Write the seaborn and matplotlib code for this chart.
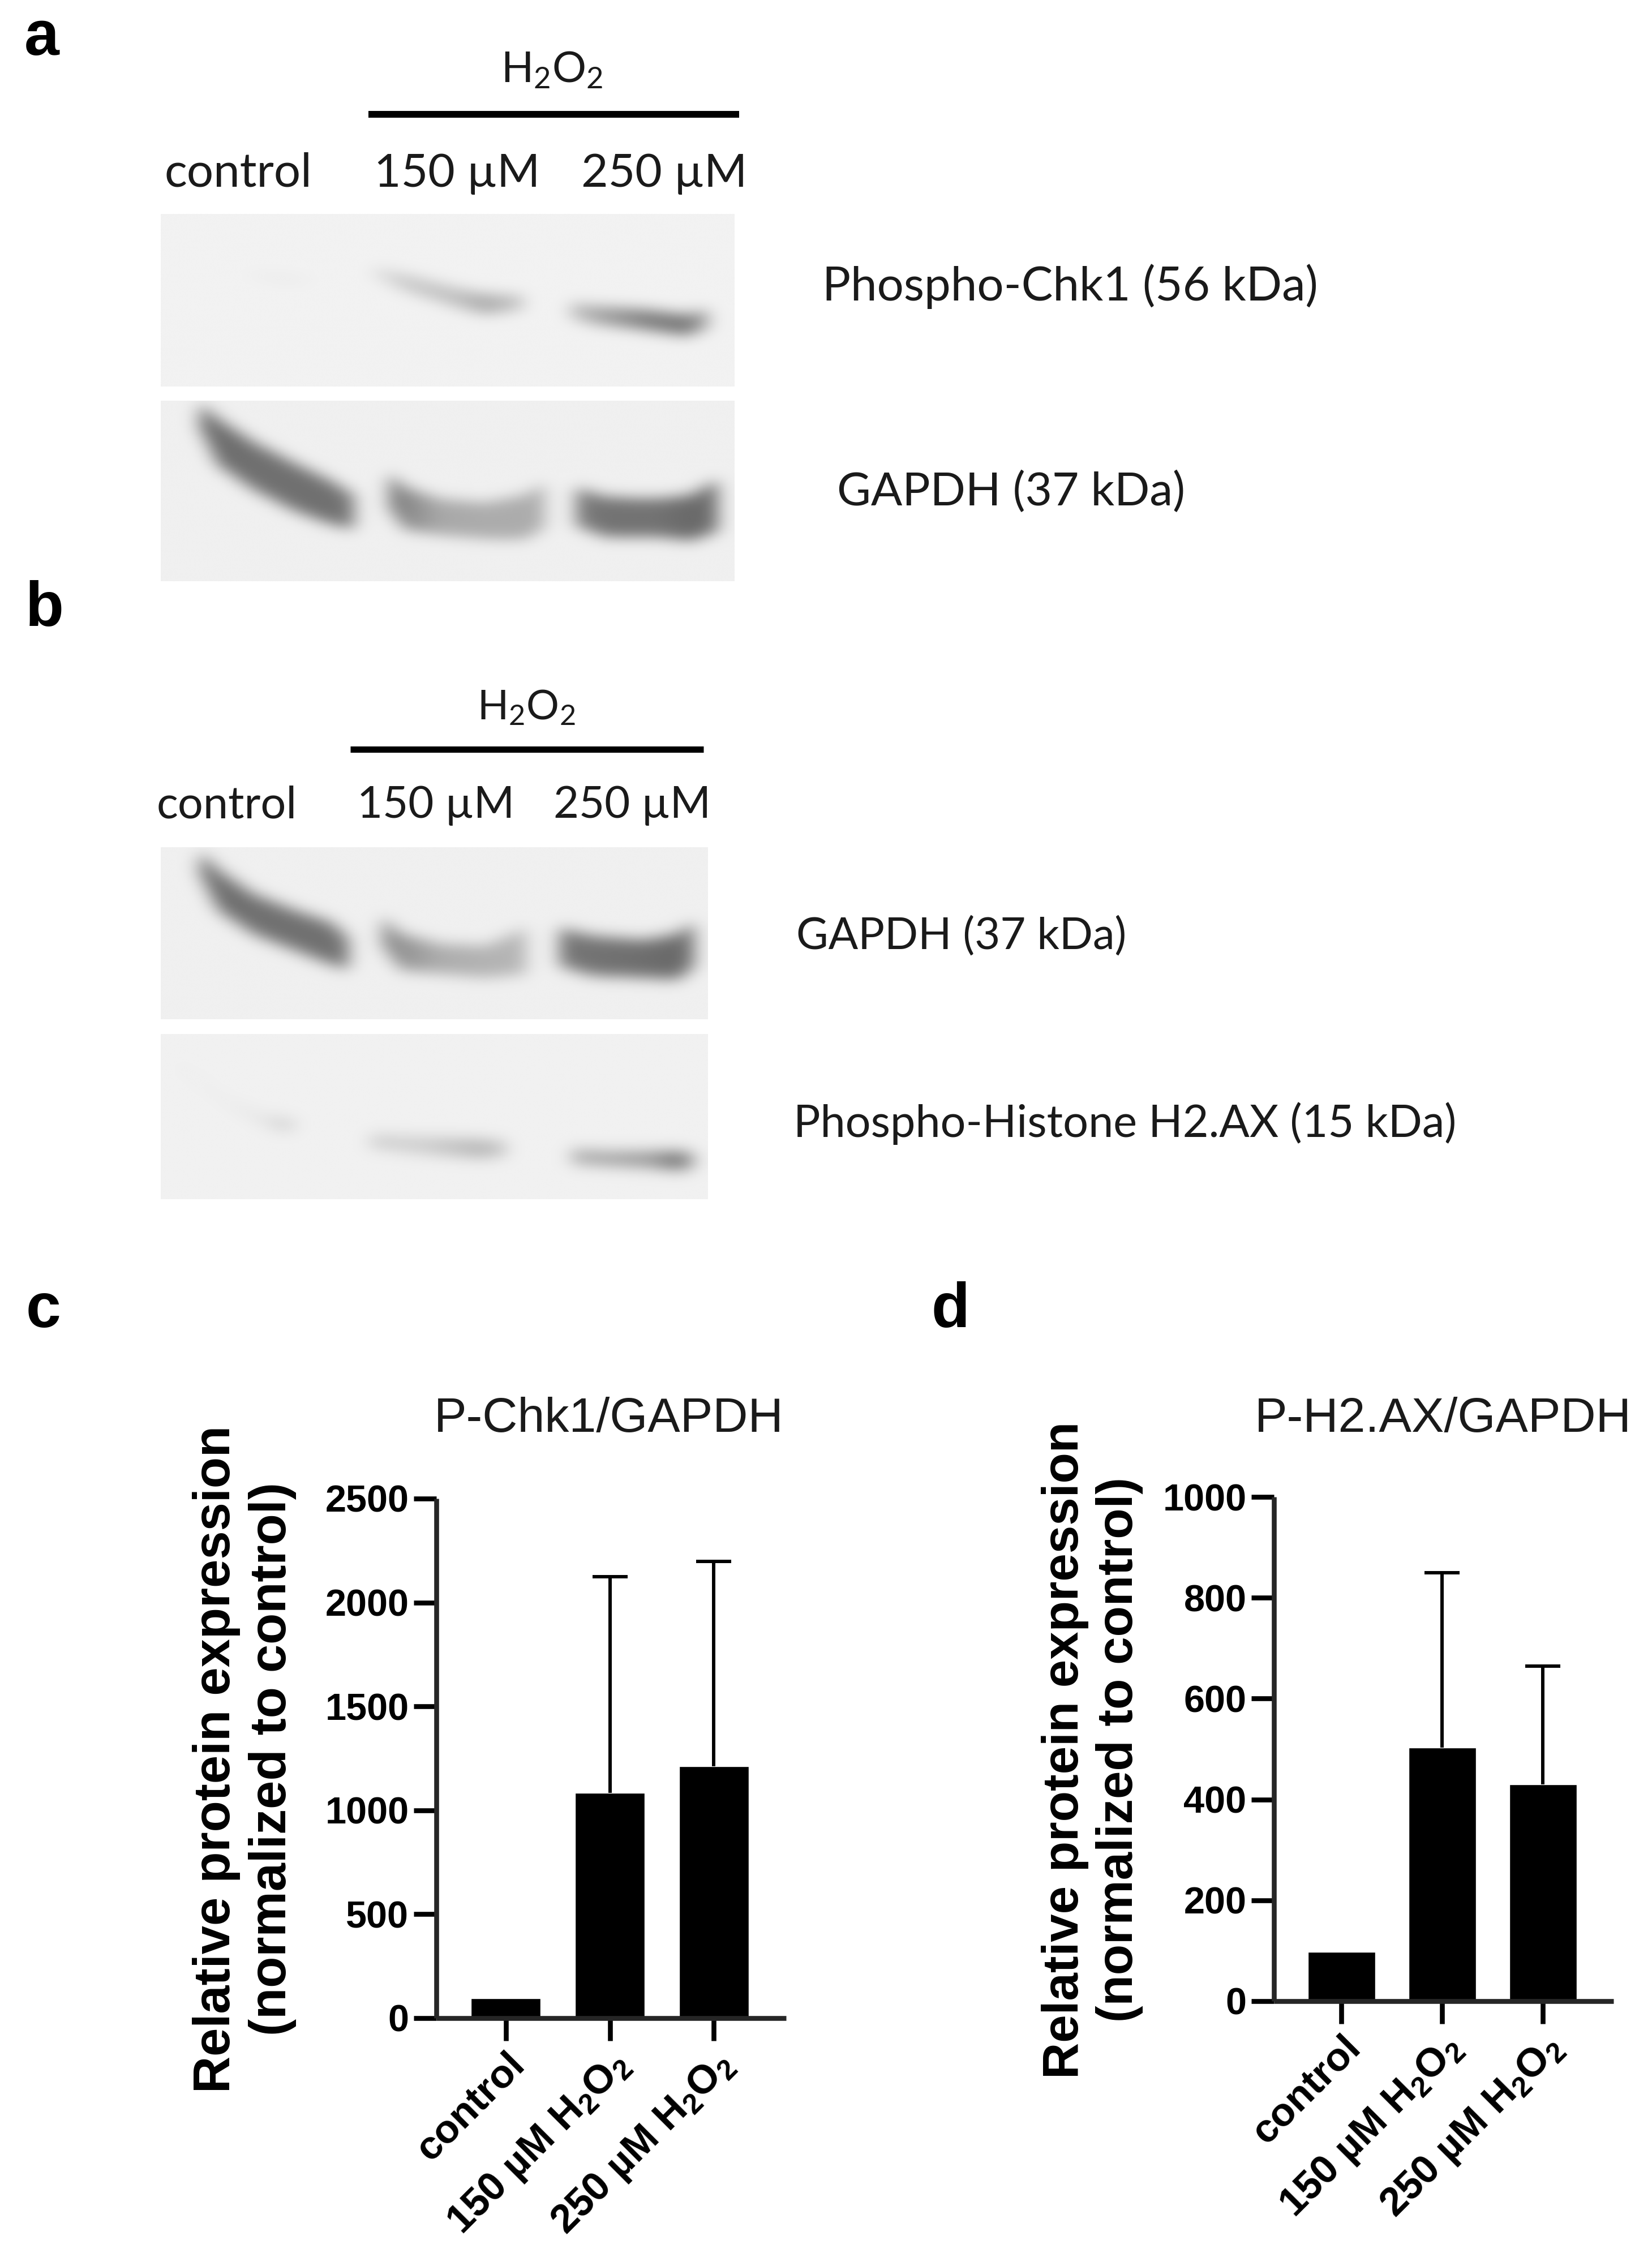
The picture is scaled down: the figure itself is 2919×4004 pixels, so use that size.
import numpy as np
import pandas as pd
import matplotlib
matplotlib.use('Agg')
import matplotlib.pyplot as plt
import seaborn as sns

sns.set_theme(style='ticks')
plt.rcParams['font.family'] = ['Liberation Sans', 'DejaVu Sans']
plt.rcParams['mathtext.default'] = 'regular'

W, H = 2919, 4004

# 1. data ---------------------------------------------------------------
groups = ['control', '150 µM H$_2$O$_2$', '250 µM H$_2$O$_2$']

chk1_mean = [95, 1085, 1212]
chk1_top = [np.nan, 2125, 2197]
chk1_ticks = [0, 500, 1000, 1500, 2000, 2500]

h2ax_mean = [98, 503, 430]
h2ax_top = [np.nan, 850, 664]
h2ax_ticks = [0, 200, 400, 600, 800, 1000]

# blot bands: (x, y top, y bottom, grey)
chk1_control = [(480, 712, 730, 238), (560, 722, 748, 234), (625, 730, 745, 238)]
chk1_150 = [(735, 702, 725, 225), (800, 722, 765, 200), (900, 758, 808, 190),
            (960, 775, 828, 170), (1035, 778, 815, 195)]
chk1_250 = [(1130, 797, 838, 195), (1180, 806, 855, 165), (1280, 816, 870, 125),
            (1360, 830, 885, 115), (1405, 815, 865, 175)]

gapdh_a_control = [(395, 1065, 1130, 105), (430, 1105, 1225, 108), (500, 1165, 1290, 112),
                   (580, 1220, 1345, 112), (650, 1265, 1380, 112), (698, 1305, 1395, 118)]
gapdh_a_150 = [(770, 1250, 1340, 120), (800, 1285, 1395, 135), (870, 1315, 1410, 168),
               (960, 1325, 1420, 172), (1040, 1305, 1420, 172), (1078, 1275, 1390, 172)]
gapdh_a_250 = [(1140, 1285, 1385, 125), (1200, 1310, 1415, 115), (1300, 1315, 1415, 115),
               (1370, 1305, 1425, 105), (1422, 1265, 1400, 110)]

gapdh_b_control = [(395, 650, 705, 105), (430, 695, 795, 108), (500, 755, 855, 112),
                   (580, 795, 895, 112), (650, 825, 930, 112), (688, 865, 945, 118)]
gapdh_b_150 = [(755, 815, 885, 135), (790, 855, 945, 145), (870, 880, 955, 172),
               (960, 885, 965, 178), (1038, 840, 955, 182)]
gapdh_b_250 = [(1105, 840, 935, 118), (1170, 860, 960, 115), (1270, 870, 965, 110),
               (1340, 855, 970, 105), (1372, 825, 935, 118)]

h2ax_control = [(350, 1175, 1195, 236), (450, 1270, 1290, 234), (520, 1310, 1335, 226),
                (560, 1320, 1350, 205), (585, 1325, 1345, 222)]
h2ax_150 = [(730, 1360, 1392, 205), (830, 1365, 1408, 205), (950, 1372, 1418, 180),
            (1000, 1378, 1412, 195)]
h2ax_250 = [(1130, 1397, 1432, 170), (1200, 1402, 1438, 160), (1280, 1402, 1442, 150),
            (1340, 1402, 1448, 110), (1370, 1408, 1442, 150)]


def px_axes(x0, y0, x1, y1):
    # axes from pixel box, y counted from the top
    return fig.add_axes([x0 / W, 1 - y1 / H, (x1 - x0) / W, (y1 - y0) / H])


def smooth(img, sigma):
    k = np.exp(-0.5 * (np.arange(-3 * sigma, 3 * sigma + 1) / sigma) ** 2)
    k = k / k.sum()
    pad = len(k) // 2
    for axis in (0, 1):
        p = np.pad(img, [(pad, pad) if a == axis else (0, 0) for a in (0, 1)], mode='edge')
        img = np.apply_along_axis(lambda v: np.convolve(v, k, mode='valid'), axis, p)
    return img


def draw_blot(box, xr, yr, bands, bg, sigma=6):
    ax = px_axes(*box)
    xs = np.arange(xr[0], xr[1], 3.0)
    ys = np.arange(yr[0], yr[1], 3.0)
    img = np.full((len(ys), len(xs)), float(bg))
    for band in bands:
        bx, top, bot, grey = np.array(band, dtype=float).T
        for j, x in enumerate(xs):
            if bx[0] <= x <= bx[-1]:
                t, b = np.interp(x, bx, top), np.interp(x, bx, bot)
                img[(ys >= t) & (ys <= b), j] = np.interp(x, bx, grey)
    ax.imshow(smooth(img, sigma), cmap='gray', vmin=0, vmax=255, aspect='auto',
              interpolation='bicubic')
    ax.axis('off')


fig = plt.figure(figsize=(W / 100, H / 100), dpi=100, facecolor='white')


def txt(x, y, s, **kw):
    kw.setdefault('va', 'baseline')
    return fig.text(x / W, 1 - y / H, s, **kw)


# 2. blots --------------------------------------------------------------
draw_blot((284, 378, 1298, 683), (317, 1455), (563, 1022), [chk1_control, chk1_150, chk1_250], 242)
draw_blot((284, 708, 1298, 1027), (317, 1455), (1057, 1533), [gapdh_a_control, gapdh_a_150, gapdh_a_250], 240)
draw_blot((284, 1497, 1251, 1801), (317, 1400), (637, 1070), [gapdh_b_control, gapdh_b_150, gapdh_b_250], 240)
draw_blot((284, 1827, 1251, 2119), (317, 1400), (1107, 1523), [h2ax_control, h2ax_150, h2ax_250], 241)

blot_font = dict(family=['Lato', 'DejaVu Sans'], color='#1a1a1a')

# panel a labels
txt(975, 146, 'H$_2$O$_2$', fontsize=54, ha='center', **blot_font)
fig.add_artist(plt.Line2D([651 / W, 1306 / W], [1 - 202 / H] * 2, color='black', lw=8.6, solid_capstyle='butt'))
txt(421, 330, 'control', fontsize=60, ha='center', **blot_font)
txt(808, 330, '150 µM', fontsize=59, ha='center', **blot_font)
txt(1174, 330, '250 µM', fontsize=59, ha='center', **blot_font)
txt(1453, 531, 'Phospho-Chk1 (56 kDa)', fontsize=60, **blot_font)
txt(1479, 893, 'GAPDH (37 kDa)', fontsize=59, **blot_font)

# panel b labels
txt(930, 1271, 'H$_2$O$_2$', fontsize=52, ha='center', **blot_font)
fig.add_artist(plt.Line2D([619 / W, 1243 / W], [1 - 1324 / H] * 2, color='black', lw=8, solid_capstyle='butt'))
txt(401, 1445, 'control', fontsize=57, ha='center', **blot_font)
txt(770, 1445, '150 µM', fontsize=56, ha='center', **blot_font)
txt(1117, 1445, '250 µM', fontsize=56, ha='center', **blot_font)
txt(1407, 1677, 'GAPDH (37 kDa)', fontsize=56, **blot_font)
txt(1402, 2009, 'Phospho-Histone H2.AX (15 kDa)', fontsize=57, **blot_font)

# panel letters
for x, y, s in [(43, 97, 'a'), (45, 1106, 'b'), (46, 2345, 'c'), (1645, 2345, 'd')]:
    txt(x, y, s, fontsize=80, fontweight='bold', color='black')

# 3. bar charts ---------------------------------------------------------
panels = [
    ((771, 2648, 1389, 3566), (-0.666, 2.693), chk1_mean, chk1_top, chk1_ticks, 'P-Chk1/GAPDH', (1076, 2530), (432, 3108), 65),
    ((2251, 2645, 2851, 3536), (-0.671, 2.70), h2ax_mean, h2ax_top, h2ax_ticks, 'P-H2.AX/GAPDH', (2550, 2530), (1930, 3092), 64),
]

for box, xlim, mean, top, ticks, title, title_pos, ylab_pos, ylab_size in panels:
    ax = px_axes(*box)
    df = pd.DataFrame({'group': groups, 'value': mean})
    sns.barplot(data=df, x='group', y='value', color='black', saturation=1, width=0.67, ax=ax)
    # upper error bars only
    err = np.array(top) - np.array(mean)
    eb = ax.errorbar(range(3), mean, yerr=[np.zeros(3), err], fmt='none', ecolor='black',
                     elinewidth=4.3, capsize=22, capthick=4.3)
    eb[1][0].set_visible(False)  # no cap sitting on the bar top
    ax.set_xlim(xlim)
    ax.set_ylim(ticks[0], ticks[-1])
    ax.set_xlabel('')
    ax.set_ylabel('')
    ax.patch.set_alpha(0)
    sns.despine(ax=ax)
    for side in ('left', 'bottom'):
        ax.spines[side].set_linewidth(6.2)
        ax.spines[side].set_capstyle('butt')
    ax.tick_params(axis='both', length=29, width=6.2, color='black', pad=6)
    ax.set_yticks(ticks)
    ax.set_yticklabels([str(t) for t in ticks], fontsize=48, fontweight='bold', color='black')
    ax.set_xticks(range(3))
    ax.set_xticklabels(groups, fontsize=51, fontweight='bold',
                       rotation=45, ha='right', rotation_mode='anchor', color='black')
    txt(title_pos[0], title_pos[1], title, fontsize=62, ha='center', color='#1a1a1a')
    txt(ylab_pos[0], ylab_pos[1], 'Relative protein expression\n(normalized to control)',
        fontsize=ylab_size, fontweight='bold', rotation=90, ha='center', va='center',
        ma='center', linespacing=1.2, color='black')

fig.savefig('out.png', dpi=100, facecolor='white')
